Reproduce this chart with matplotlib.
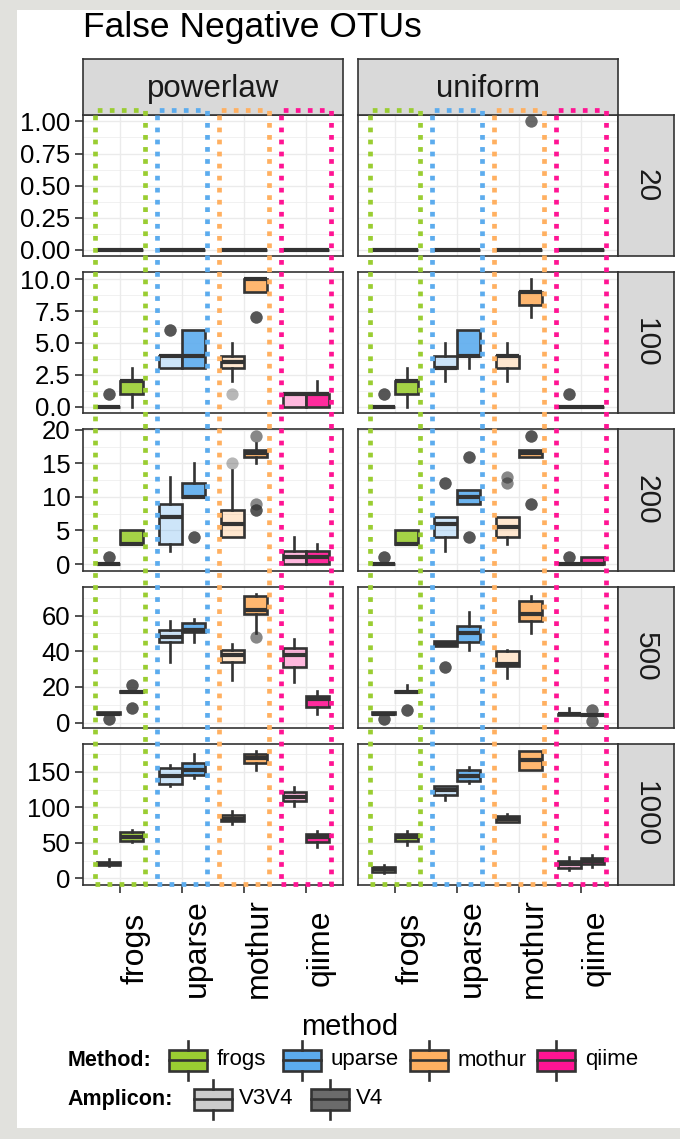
import matplotlib
matplotlib.use('Agg')
import matplotlib.pyplot as plt
import matplotlib.transforms as mtransforms
from matplotlib.patches import Rectangle
from matplotlib.lines import Line2D
from matplotlib.colors import to_rgba
from matplotlib.ticker import MultipleLocator, FormatStrFormatter

plt.rcParams['font.family'] = ['Liberation Sans', 'DejaVu Sans']

# ---- data ----
methods = ['frogs', 'uparse', 'mothur', 'qiime']
amplicons = ['V3V4', 'V4']
distributions = ['powerlaw', 'uniform']
sizes = ['20', '100', '200', '500', '1000']

method_colors = ['#9ACD32', '#5CACEE', '#FFB061', '#FF1493']
amplicon_alpha = [0.3, 0.9]
amplicon_key_colors = ['#CCCCCC', '#6B6B6B']

# box stats, order: frogs V3V4, frogs V4, uparse V3V4, uparse V4, mothur V3V4, mothur V4, qiime V3V4, qiime V4
# (whislo, q1, med, q3, whishi, outliers)
box_20_powerlaw = [(0, 0, 0, 0, 0, [])] * 8
box_20_uniform = [(0, 0, 0, 0, 0, [])] * 5 + [(0, 0, 0, 0, 0, [1] * 3)] + [(0, 0, 0, 0, 0, [])] * 2

box_100_powerlaw = [(0, 0, 0, 0, 0, [1] * 4), (0, 1, 2, 2, 3, []),
                    (3, 3, 4, 4, 4, [6] * 4), (3, 3, 4, 6, 6, []),
                    (2, 3, 3.5, 4, 5, [1]), (9, 9, 10, 10, 10, [7] * 4),
                    (0, 0, 1, 1, 1, []), (0, 0, 1, 1, 2, [])]
box_100_uniform = [(0, 0, 0, 0, 0, [1] * 4), (0, 1, 2, 2, 3, []),
                   (2, 3, 3, 4, 5, []), (3, 4, 4, 6, 6, []),
                   (2, 3, 4, 4, 5, []), (7, 8, 9, 9, 10, []),
                   (0, 0, 0, 0, 0, [1] * 4), (0, 0, 0, 0, 0, [])]

box_200_powerlaw = [(0, 0, 0, 0, 0, [1] * 4), (3, 3, 3, 5, 5, []),
                    (2, 3, 7, 9, 13, []), (10, 10, 10, 12, 15, [4] * 4),
                    (4, 4, 6, 8, 14, [15]), (15, 16, 16.5, 17, 18, [19] * 2 + [9] * 2 + [8] * 4),
                    (0, 0, 1, 2, 4, []), (0, 0, 1, 2, 3, [])]
box_200_uniform = [(0, 0, 0, 0, 0, [1] * 4), (3, 3, 3, 5, 5, []),
                   (2, 4, 6, 7, 7, [12] * 4), (9, 9, 10, 11, 11, [16] * 4 + [4] * 4),
                   (3, 4, 5.5, 7, 7, [13] * 2 + [12] * 2), (16, 16, 16.5, 17, 17, [19] * 4 + [9] * 4),
                   (0, 0, 0, 0, 0, [1] * 4), (0, 0, 0, 1, 1, [])]

box_500_powerlaw = [(5, 5, 5, 6, 6, [2] * 4), (17, 17, 17, 18, 18, [21] * 4 + [8] * 4),
                    (34, 45, 48, 52, 57, []), (45, 51, 52, 56, 58, []),
                    (24, 34, 38, 41, 44, []), (50, 61, 63, 71, 72, [48] * 2),
                    (23, 31, 38, 42, 47, []), (5, 9, 13, 15, 18, [])]
box_500_uniform = [(5, 5, 5, 6, 6, [2] * 4), (17, 17, 17, 18, 21, [7] * 4),
                   (43, 43, 44, 46, 46, [31] * 4), (41, 45, 50, 54, 62, []),
                   (25, 32, 33, 40, 41, []), (50, 57, 61, 68, 71, []),
                   (4, 4, 5, 5, 8, []), (4, 4, 4, 5, 5, [7] * 3 + [1] * 3)]

box_1000_powerlaw = [(17, 18, 20, 23, 27, []), (51, 53, 58, 65, 68, []),
                     (130, 133, 144, 155, 159, []), (141, 145, 152, 163, 175, []),
                     (77, 80, 84, 89, 95, []), (153, 163, 169, 175, 180, []),
                     (102, 109, 115, 121, 128, []), (44, 51, 58, 63, 66, [])]
box_1000_uniform = [(8, 9, 13, 16, 19, []), (47, 53, 58, 62, 66, []),
                    (110, 118, 124, 130, 130, []), (134, 137, 144, 152, 157, []),
                    (79, 79, 83, 88, 91, []), (153, 153, 166, 180, 180, []),
                    (12, 15, 20, 24, 30, []), (16, 20, 24, 28, 33, [])]

panel_boxes = [[box_20_powerlaw, box_20_uniform],
               [box_100_powerlaw, box_100_uniform],
               [box_200_powerlaw, box_200_uniform],
               [box_500_powerlaw, box_500_uniform],
               [box_1000_powerlaw, box_1000_uniform]]

row_ylims = [(-0.05, 1.05), (-0.53, 10.55), (-0.98, 20.05), (-2.9, 76.3), (-9.5, 189.5)]
row_major = [0.25, 2.5, 5, 20, 50]
row_fmt = ['%.2f', '%.1f', '%d', '%d', '%d']

# ---- layout (pixels) ----
W, H = 680, 1139
DARK = '#333333'
LW = 1.9


def fx(px):
    return px / W


def fy(py):
    return 1 - py / H


fig = plt.figure(figsize=(W / 100, H / 100), dpi=100)
fig.patch.set_facecolor('#E1E1DD')
fig.add_artist(Rectangle((fx(17), fy(1128)), 1 - fx(17), (1128 - 10) / H,
                         transform=fig.transFigure, facecolor='white',
                         edgecolor='none', zorder=-10))

col_x = [(83, 343), (358, 618)]
row_h = 141.2
row_top = [115 + r * 157.2 for r in range(5)]

fig.text(fx(83), fy(37), 'False Negative OTUs', fontsize=25.5, ha='left', va='baseline')

axes = [[None, None] for _ in range(5)]
for r in range(5):
    for c in range(2):
        x0, x1 = col_x[c]
        ax = fig.add_axes([fx(x0), fy(row_top[r] + row_h), (x1 - x0) / W, row_h / H])
        axes[r][c] = ax
        ax.set_xlim(0.4, 4.6)
        ax.set_ylim(*row_ylims[r])
        ax.set_axisbelow(True)
        ax.yaxis.set_major_locator(MultipleLocator(row_major[r]))
        ax.yaxis.set_minor_locator(MultipleLocator(row_major[r] / 2))
        ax.yaxis.set_major_formatter(FormatStrFormatter(row_fmt[r]))
        ax.set_xticks(range(1, 5))
        ax.grid(True, which='major', color='#EBEBEB', lw=1.0)
        ax.grid(True, which='minor', axis='y', color='#EBEBEB', lw=0.5)
        for s in ax.spines.values():
            s.set_color(DARK)
            s.set_linewidth(1.2)
        ax.tick_params(which='minor', length=0)
        ax.tick_params(axis='both', which='major', color=DARK, width=1.2,
                       length=5.5, labelsize=18.5, pad=3.5)
        if c == 1:
            ax.tick_params(axis='y', length=0, labelleft=False)
        if r < 4:
            ax.tick_params(axis='x', length=0, labelbottom=False)
        else:
            ax.set_xticklabels(methods, rotation=90, ha='left', va='center',
                               fontsize=23)
            ax.tick_params(axis='x', pad=40)

        stats = []
        pos = []
        fills = []
        for m in range(4):
            for a in range(2):
                wl, q1, med, q3, wh, outl = panel_boxes[r][c][m * 2 + a]
                stats.append(dict(whislo=wl, q1=q1, med=med, q3=q3, whishi=wh,
                                  fliers=outl))
                pos.append(m + 1 + (a - 0.5) * 0.375)
                fills.append(to_rgba(method_colors[m], amplicon_alpha[a]))
        res = ax.bxp(stats, positions=pos, widths=0.375, patch_artist=True,
                     showcaps=False, manage_ticks=False,
                     boxprops=dict(edgecolor=DARK, linewidth=LW),
                     whiskerprops=dict(color=DARK, linewidth=LW),
                     medianprops=dict(color=DARK, linewidth=3.0, solid_capstyle='butt'),
                     flierprops=dict(marker='o', markerfacecolor=DARK,
                                     markeredgecolor='none', markersize=8.8,
                                     alpha=0.35))
        for b, fc in zip(res['boxes'], fills):
            b.set_facecolor(fc)

# strips on top
for c in range(2):
    x0, x1 = col_x[c]
    sax = fig.add_axes([fx(x0), fy(115), (x1 - x0) / W, 56 / H])
    sax.set_facecolor('#D9D9D9')
    sax.set_xticks([])
    sax.set_yticks([])
    for s in sax.spines.values():
        s.set_color(DARK)
        s.set_linewidth(1.2)
    sax.text(0.5, 0.47, distributions[c], transform=sax.transAxes,
             ha='center', va='center', fontsize=22.5, color='#1A1A1A')

# strips on the right
for r in range(5):
    sax = fig.add_axes([fx(618), fy(row_top[r] + row_h), 56 / W, row_h / H])
    sax.set_facecolor('#D9D9D9')
    sax.set_xticks([])
    sax.set_yticks([])
    for s in sax.spines.values():
        s.set_color(DARK)
        s.set_linewidth(1.2)
    sax.text(0.5, 0.5, sizes[r], transform=sax.transAxes, rotation=-90,
             ha='center', va='center', fontsize=21.5, color='#1A1A1A')

# dotted method frames across all rows
for c in range(2):
    trans = mtransforms.blended_transform_factory(axes[4][c].transData, fig.transFigure)
    for m in range(4):
        rect = Rectangle((m + 1 - 0.4, fy(884)), 0.8, (884 - 110) / H,
                         transform=trans, fill=False, edgecolor=method_colors[m],
                         lw=3.4, linestyle=(0, (1, 1.55)), zorder=20, clip_on=False)
        fig.add_artist(rect)

# x axis title
fig.text(fx(350), fy(1035), 'method', fontsize=21, ha='center', va='baseline')


# legend
def draw_key(x0, yc, color):
    bw, bh = 38, 21
    fig.add_artist(Rectangle((fx(x0), fy(yc + bh / 2)), bw / W, bh / H,
                             transform=fig.transFigure, facecolor=color,
                             edgecolor=DARK, lw=LW))
    fig.add_artist(Line2D([fx(x0), fx(x0 + bw)], [fy(yc), fy(yc)],
                          transform=fig.transFigure, color=DARK, lw=LW))
    xm = x0 + bw / 2
    fig.add_artist(Line2D([fx(xm), fx(xm)], [fy(yc - bh / 2), fy(yc - bh / 2 - 9)],
                          transform=fig.transFigure, color=DARK, lw=LW))
    fig.add_artist(Line2D([fx(xm), fx(xm)], [fy(yc + bh / 2), fy(yc + bh / 2 + 9)],
                          transform=fig.transFigure, color=DARK, lw=LW))


method_key_x = [169, 283, 410, 537]
amplicon_key_x = [194, 311]
y1, y2 = 1060, 1099

fig.text(fx(68), fy(y1), 'Method:', fontsize=15.5, fontweight='bold', ha='left', va='center')
for m in range(4):
    draw_key(method_key_x[m], y1, method_colors[m])
    fig.text(fx(method_key_x[m] + 48), fy(y1), methods[m], fontsize=16,
             ha='left', va='center')

fig.text(fx(67), fy(y2), 'Amplicon:', fontsize=15.5, fontweight='bold', ha='left', va='center')
for a in range(2):
    draw_key(amplicon_key_x[a], y2, amplicon_key_colors[a])
    fig.text(fx(amplicon_key_x[a] + 45), fy(y2), amplicons[a], fontsize=16,
             ha='left', va='center')

fig.savefig('out.png', dpi=100, facecolor=fig.get_facecolor())
